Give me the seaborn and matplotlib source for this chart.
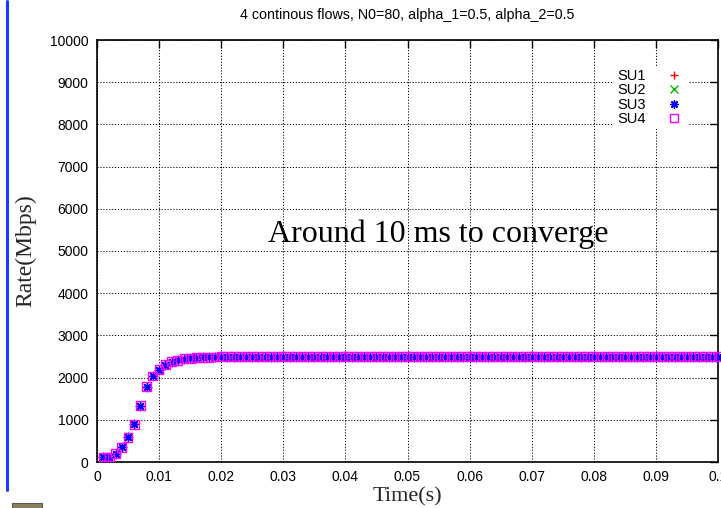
import numpy as np
import pandas as pd
import matplotlib
matplotlib.use("Agg")
import matplotlib.pyplot as plt
import seaborn as sns
from matplotlib.lines import Line2D
from matplotlib.patches import Rectangle

# sampled every 1 ms (0.001 s)
time_s = np.round(np.arange(1, 101) * 0.001, 3)

rate_su1 = ([117, 117, 195, 352, 586, 891, 1336, 1781, 2039, 2188,
             2305, 2375, 2410, 2445, 2460, 2470, 2478, 2484, 2488, 2491,
             2494, 2496, 2498, 2499] + [2500] * 76)
rate_su2 = list(rate_su1)
rate_su3 = list(rate_su1)
rate_su4 = list(rate_su1)

series_names = ["SU1", "SU2", "SU3", "SU4"]
series_rates = [rate_su1, rate_su2, rate_su3, rate_su4]

x_ticks = [0, 0.01, 0.02, 0.03, 0.04, 0.05, 0.06, 0.07, 0.08, 0.09, 0.1]
x_tick_labels = ["0", "0.01", "0.02", "0.03", "0.04", "0.05", "0.06", "0.07", "0.08", "0.09", "0.1"]
y_ticks = [0, 1000, 2000, 3000, 4000, 5000, 6000, 7000, 8000, 9000, 10000]

title = "4 continous flows, N0=80, alpha_1=0.5, alpha_2=0.5"
note = "Around 10 ms to converge"

sns.set_style("white")
plt.rcParams["font.family"] = ["Liberation Sans", "DejaVu Sans"]
plt.rcParams["text.color"] = "black"

fig = plt.figure(figsize=(7.21, 5.08), dpi=100)
ax = fig.add_axes([97 / 721, 1 - 462 / 508, 621 / 721, 422 / 508])

styles = [
    dict(marker="+", color="#ff0000", s=40, linewidth=1.0),
    dict(marker="x", color="#00c000", s=28, linewidth=1.0),
    dict(marker=(8, 2, 0), color="#0000ff", s=36, linewidth=1.0),
    dict(marker="s", facecolor="none", edgecolor="#ff00ff", s=40, linewidth=1.0),
]

handles = []
for name, rates, st in zip(series_names, series_rates, styles):
    df = pd.DataFrame({"Time": time_s, "Rate": rates})
    sns.scatterplot(data=df, x="Time", y="Rate", ax=ax, legend=False,
                    clip_on=False, zorder=3, **st)
    if st["marker"] == "s":
        h = Line2D([], [], linestyle="", marker="s", markersize=6,
                   markerfacecolor="none", markeredgecolor=st["edgecolor"],
                   markeredgewidth=1.0)
    else:
        h = Line2D([], [], linestyle="", marker=st["marker"], markersize=6,
                   color=st["color"], markeredgewidth=1.0)
    handles.append(h)

ax.set_xlim(0, 0.1)
ax.set_ylim(0, 10000)
ax.set_xticks(x_ticks)
ax.set_xticklabels(x_tick_labels)
ax.set_yticks(y_ticks)
ax.tick_params(direction="in", length=6, width=1, top=True, right=True,
               labelsize=10, colors="black", pad=6)
ax.grid(True, linestyle=(0, (1.2, 1.8)), color="black", linewidth=0.7)
for sp in ax.spines.values():
    sp.set_color("black")
    sp.set_linewidth(1.2)

ax.set_title(title, fontsize=10.3, pad=15)
ax.set_xlabel("Time(s)", family="Liberation Serif", fontsize=16, labelpad=2)
ax.set_ylabel("Rate(Mbps)", family="Liberation Serif", fontsize=17, labelpad=10)

ax.text(0.0275, 5400, note, family="Liberation Serif", fontsize=23, va="center")

leg = ax.legend(handles, series_names, loc="upper right", frameon=True,
                markerfirst=False, fontsize=10.5, handletextpad=1.2,
                labelspacing=0.02, handlelength=1.5,
                bbox_to_anchor=(695 / 721, 1 - 59 / 508),
                bbox_transform=fig.transFigure, borderpad=0.2)
leg.get_frame().set_facecolor("white")
leg.get_frame().set_edgecolor("none")
leg.get_frame().set_alpha(1)
leg.set_zorder(5)

# blue border and small artefact on the left of the original image
fig.add_artist(Line2D([6.5 / 721, 6.5 / 721], [1 - 1 / 508, 1 - 490 / 508],
                      color="#1a3cff", linewidth=2.2))
fig.add_artist(Rectangle((12 / 721, 0), 30 / 721, 5 / 508,
                         transform=fig.transFigure, facecolor="#8c8260",
                         edgecolor="#5a5a4a", linewidth=0.8))

fig.savefig("out.png", dpi=100)
